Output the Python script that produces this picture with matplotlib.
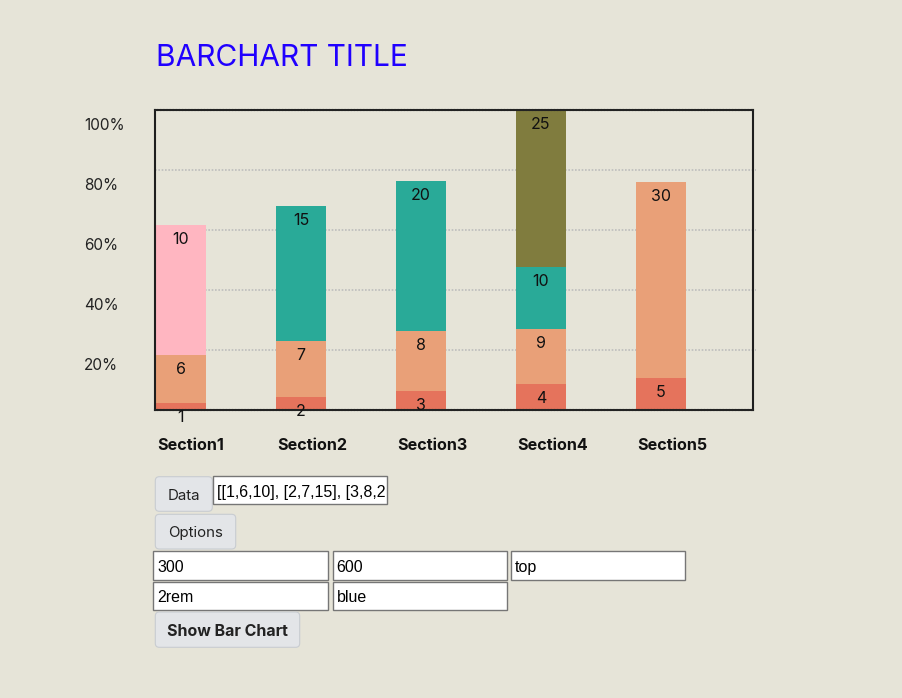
import matplotlib
matplotlib.use("Agg")
import matplotlib.pyplot as plt
from matplotlib.patches import FancyBboxPatch, Rectangle
from matplotlib.transforms import (Bbox, TransformedBbox,
                                   blended_transform_factory, offset_copy)

# Chart data
sections = ["Section1", "Section2", "Section3", "Section4", "Section5"]
values = [[1, 6, 10], [2, 7, 15], [3, 8, 20], [4, 9, 10, 25], [5, 30]]
# segment heights in % of the axis, as drawn in the page
heights = [[2.4, 15.9, 43.4], [4.4, 18.7, 44.9], [6.3, 20.0, 50.0],
           [8.7, 18.3, 20.7, 52.3], [10.7, 65.3]]
RED, ORANGE, TEAL, PINK, OLIVE = "#E5735C", "#E9A078", "#29AA98", "#FFB6C1", "#807C3E"
colors = [[RED, ORANGE, PINK], [RED, ORANGE, TEAL], [RED, ORANGE, TEAL],
          [RED, ORANGE, TEAL, OLIVE], [RED, ORANGE]]
yticks = [20, 40, 60, 80, 100]
ytick_labels = ["20%", "40%", "60%", "80%", "100%"]
title = "BARCHART TITLE"

# Form contents
data_text = ", ".join("[" + ",".join(str(v) for v in row) + "]" for row in values)
data_text = "[" + data_text + "]"
option_row1 = ["300", "600", "top"]
option_row2 = ["2rem", "blue"]

BG = "#E6E4D8"
UI_FONT = ["Inter", "DejaVu Sans"]
INPUT_FONT = ["Liberation Sans", "DejaVu Sans"]

W, H = 902, 698
fig = plt.figure(figsize=(W / 100, H / 100), dpi=100, facecolor=BG)

# page axes in pixel units (y down)
page = fig.add_axes([0, 0, 1, 1], zorder=0)
page.set_xlim(0, W)
page.set_ylim(H, 0)
page.axis("off")

page.text(156.5, 66, title, color="#2000FF", fontsize=21.5, family=UI_FONT,
          va="baseline", ha="left")

# chart axes
ax = fig.add_axes([155 / W, 1 - 410 / H, 598 / W, 300 / H], zorder=1)
ax.set_facecolor("none")
bar_w = 50 / 120
ax.set_xlim(-1 / 120, 597 / 120)
ax.set_ylim(0, 100)
ax.set_xticks([])
ax.set_yticks([])
for side in ["left", "right"]:
  ax.spines[side].set_color("#1E1E1E")
  ax.spines[side].set_linewidth(1.5)
for side in ["top", "bottom"]:
  ax.spines[side].set_color("#222222")
  ax.spines[side].set_linewidth(1.5)
  ax.spines[side].set_linestyle((0, (1, 0.5)))

# dotted grid
for t in yticks[:-1]:
  ax.axhline(t, xmin=0, xmax=1.005, color="#BDBDBD", lw=1.2,
             ls=(0, (1, 1)), zorder=1, clip_on=False)

# y labels sit below their grid line
ylab_tr = offset_copy(blended_transform_factory(page.transData, ax.transData),
                      fig=fig, y=-20, units="dots")
for t, lab in zip(yticks, ytick_labels):
  ax.text(84, t, lab, transform=ylab_tr, ha="left", va="baseline",
          fontsize=11, color="#222222", family=UI_FONT)

# stacked bars
val_tr = offset_copy(ax.transData, fig=fig, y=-19, units="dots")
for i, (vals, hts, cols) in enumerate(zip(values, heights, colors)):
  bottom = 0
  for v, h, c in zip(vals, hts, cols):
    ax.bar(i, h, width=bar_w, bottom=bottom, align="edge", color=c,
           zorder=2, linewidth=0)
    top = bottom + h
    ax.text(i + bar_w / 2, top, str(v), transform=val_tr, ha="center",
            va="baseline", fontsize=11.5, color="#111111", family=UI_FONT,
            zorder=4, clip_on=False)
    bottom = top

# section labels under the bars
sec_tr = blended_transform_factory(ax.transData, page.transData)
for i, name in enumerate(sections):
  ax.text(i + 1 / 120, 450.5, name, transform=sec_tr, ha="left",
          va="baseline", fontsize=11.6, fontweight="bold", color="#111111",
          family=UI_FONT)


def button(x0, y0, x1, y1, label, bold=False, ty=None):
  box = FancyBboxPatch((x0 + 1, y0 + 1), x1 - x0 - 2, y1 - y0 - 2,
                       boxstyle="round,pad=0,rounding_size=4",
                       facecolor="#E3E5E8", edgecolor="#C8CCD1", lw=0.8)
  page.add_patch(box)
  page.text((x0 + x1) / 2, ty, label, ha="center", va="baseline",
            fontsize=11.5 if bold else 10.8, family=UI_FONT,
            fontweight="bold" if bold else "normal", color="#222222")


def text_input(x0, y0, x1, y1, txt):
  rect = Rectangle((x0, y0), x1 - x0, y1 - y0, facecolor="white",
                   edgecolor="#767676", lw=1.0)
  page.add_patch(rect)
  t = page.text(x0 + 4, y0 + (y1 - y0) / 2 + 6.5, txt, ha="left",
                va="baseline", fontsize=11.5, family=INPUT_FONT, color="black")
  clip = TransformedBbox(Bbox.from_extents(x0 + 1, y0, x1 - 1, y1), page.transData)
  t.set_clip_box(clip)
  t.set_clip_on(True)


button(154.3, 475.7, 213.3, 512.3, "Data", ty=500)
text_input(213.3, 475.7, 387.3, 504.3, data_text)
button(154.3, 513.3, 236.7, 550, "Options", ty=536.7)

row1_x = [(153.3, 327.7), (332.7, 506.7), (511.0, 685.3)]
for (x0, x1), txt in zip(row1_x, option_row1):
  text_input(x0, 551.3, x1, 580.3, txt)
for (x0, x1), txt in zip(row1_x[:2], option_row2):
  text_input(x0, 581.7, x1, 610.3, txt)

button(154.3, 611.0, 300.7, 648.3, "Show Bar Chart", bold=True, ty=636)

fig.savefig("out.png", dpi=100, facecolor=BG)
